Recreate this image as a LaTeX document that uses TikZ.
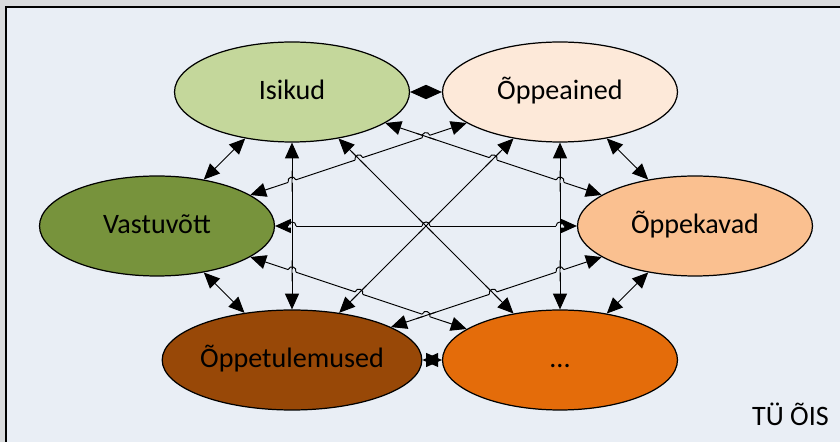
\documentclass[tikz,border=0pt]{standalone}
\usepackage{fontspec}
\setmainfont{Carlito}
\usetikzlibrary{shapes.geometric,arrows.meta,calc}

\definecolor{outer}{HTML}{D9DBDD}
\definecolor{panel}{HTML}{E9EEF5}
\definecolor{isikudcol}{HTML}{C4D79B}
\definecolor{ainedcol}{HTML}{FDE9D9}
\definecolor{vastucol}{HTML}{77933C}
\definecolor{kavadcol}{HTML}{FAC090}
\definecolor{tulemcol}{HTML}{984807}
\definecolor{dotscol}{HTML}{E46C0A}

\newcommand\moredots{...}

\tikzset{
  elli/.style={ellipse, draw=black, line width=0.7pt, minimum width=4.7cm, minimum height=2cm,
    inner sep=0pt, text height=12pt, text depth=3pt, font=\fontsize{16}{19}\selectfont},
  conn/.style={line width=0.55pt, black},
  link/.style={conn, <->, >={Triangle[length=9pt,width=8pt]}},
  erase/.style={draw=panel, line width=1.8pt}
}

\begin{document}
\begin{tikzpicture}[x=0.02cm, y=-0.02cm]

\useasboundingbox (0,0) rectangle (840,442);
\clip (0,0) rectangle (840,442);

% frame
\fill[outer] (0,0) rectangle (840,442);
\draw[fill=panel, line width=1.1pt] (6,7) rectangle (870,470);

% the six parts of the system
\foreach \nm/\x/\y/\col/\txt in {
  isikud/292/92/isikudcol/Isikud,
  ained/560/92/ainedcol/Õppeained,
  vastu/157/226/vastucol/Vastuvõtt,
  kavad/695/226/kavadcol/Õppekavad,
  tulem/292/360/tulemcol/Õppetulemused,
  dots/560/360/dotscol/\moredots}
  \node[elli, fill=\col] (\nm) at (\x,\y) {\txt};

% every part talks to every other part
\foreach \a/\b in {isikud/ained, isikud/vastu, isikud/kavad, isikud/tulem, isikud/dots,
  ained/vastu, ained/kavad, ained/tulem, ained/dots,
  vastu/kavad, vastu/tulem, vastu/dots,
  kavad/tulem, kavad/dots, tulem/dots}
  \draw[link] (\a) -- (\b);

% line hops: #1--#2 jumps over #3--#4
\def\hopr{2.3pt}
\def\hopR{6pt}
\def\hop#1#2#3#4{
  \coordinate (X) at (intersection of #1.center--#2.center and #3.center--#4.center);
  \coordinate (h1) at ($(X)!\hopr!(#1.center)$);
  \coordinate (h2) at ($(X)!\hopr!(#2.center)$);
  \draw[erase] (h1) -- (h2);
  \draw[conn] ($(X)!\hopR!(#3.center)$) -- ($(X)!\hopR!(#4.center)$);
  \draw[conn] (h1) .. controls ($(h1)!0.667!90:(h2)$) and ($(h2)!0.667!-90:(h1)$) .. (h2);
}

\hop{vastu}{kavad}{isikud}{tulem}
\hop{vastu}{kavad}{ained}{dots}
\hop{vastu}{kavad}{isikud}{dots}
\draw[conn] ($(X)!\hopR!(ained.center)$) -- ($(X)!\hopR!(tulem.center)$);
\hop{vastu}{ained}{isikud}{tulem}
\hop{vastu}{ained}{isikud}{dots}
\hop{vastu}{ained}{isikud}{kavad}
\hop{vastu}{dots}{isikud}{tulem}
\hop{vastu}{dots}{ained}{tulem}
\hop{vastu}{dots}{tulem}{kavad}
\hop{isikud}{kavad}{ained}{dots}
\hop{isikud}{kavad}{ained}{tulem}
\hop{tulem}{kavad}{ained}{dots}
\hop{tulem}{kavad}{isikud}{dots}

\node[anchor=base east, font=\fontsize{16}{19}\selectfont] (tag) at (835,426) {TÜ ÕIS};

\end{tikzpicture}
\end{document}
